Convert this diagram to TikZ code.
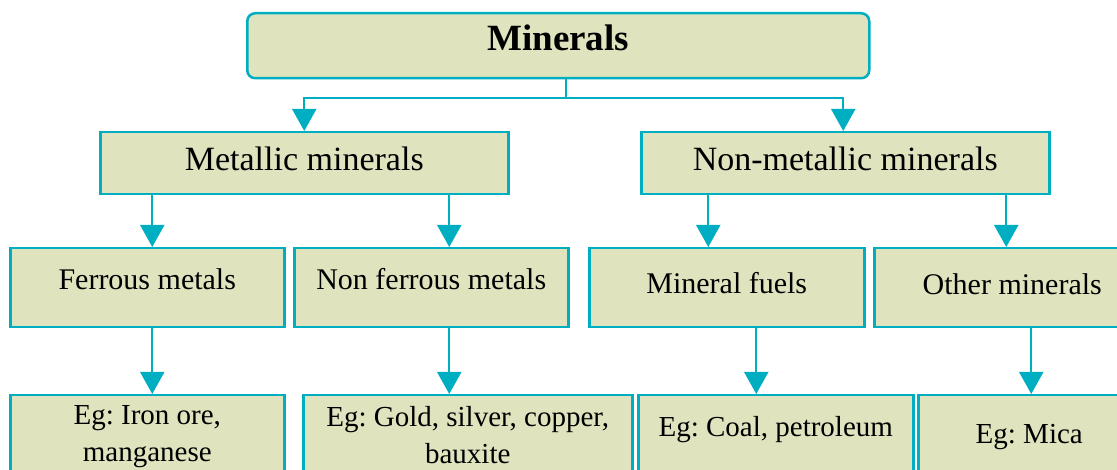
\documentclass[tikz,border=0pt]{standalone}
\usepackage{fontspec}
\setmainfont{Liberation Serif}
\frenchspacing
\usetikzlibrary{arrows.meta,positioning,calc}
\definecolor{mincyan}{RGB}{0,174,194}
\definecolor{minfill}{RGB}{223,228,190}

\begin{document}
\begin{tikzpicture}[x=1pt,y=-1pt,
  box/.style={draw=mincyan,fill=minfill,line width=2.5pt,inner xsep=0pt,inner ysep=0pt,anchor=north west,align=center},
  arr/.style={draw=mincyan,line width=2pt,-{Triangle[width=24pt,length=22pt]}}]
\useasboundingbox (0,0) rectangle (1117,470);
%Kopf
\node[box,rounded corners=8pt,minimum width=622pt,text height=37pt,text depth=28pt,font=\bfseries\fontsize{37}{40}\selectfont] (top) at (246,12) {Minerals};
%erste Ebene
\node[box,minimum width=408pt,text height=38pt,text depth=24pt,font=\fontsize{34}{38}\selectfont] (metal) at (99,131) {Metallic minerals};
\node[box,minimum width=408pt,text height=38pt,text depth=24pt,font=\fontsize{34}{38}\selectfont] (nonmetal) at (640,131) {Non-metallic minerals};
%zweite Ebene
\node[box,minimum width=274pt,text height=41pt,text depth=38pt,font=\fontsize{30}{34}\selectfont] (ferrous) at (9,247) {Ferrous metals};
\node[box,minimum width=274pt,text height=41pt,text depth=38pt,font=\fontsize{30}{34}\selectfont] (nonferrous) at (293,247) {Non ferrous metals};
\node[box,minimum width=275pt,text height=45pt,text depth=34pt,font=\fontsize{30}{34}\selectfont] (fuels) at (588,247) {Mineral fuels};
\node[box,minimum width=276pt,text height=46pt,text depth=33pt,font=\fontsize{30}{34}\selectfont] (other) at (873,247) {Other minerals};
%Beispiele (Grundlinie = letzte Zeile)
\node[box,minimum width=274pt,text height=66pt,text depth=34pt,font=\fontsize{29}{37}\selectfont] (egiron) at (9,394) {Eg: Iron ore,\\manganese};
\node[box,minimum width=329pt,text height=68pt,text depth=32pt,font=\fontsize{29}{37}\selectfont] (eggold) at (302,394) {Eg: Gold, silver, copper,\\bauxite};
\node[box,minimum width=275pt,text height=41pt,text depth=59pt,font=\fontsize{29}{37}\selectfont] (egcoal) at (637,394) {Eg: Coal, petroleum};
\node[box,minimum width=222pt,text height=48pt,text depth=52pt,font=\fontsize{29}{37}\selectfont] (egmica) at (917,394) {Eg: Mica};
%Pfeile
\coordinate (split) at ($([xshift=8pt]top.south)+(0,19)$);
\draw[mincyan,line width=2pt] ([xshift=8pt]top.south) -- (split);
\draw[arr] (split) -| (metal.north);
\draw[arr] (split) -| ([xshift=-2pt]nonmetal.north);
\draw[arr] ([xshift=5pt]ferrous.north |- metal.south) -- ([xshift=5pt]ferrous.north);
\draw[arr] ([xshift=18pt]nonferrous.north |- metal.south) -- ([xshift=18pt]nonferrous.north);
\draw[arr] ([xshift=-18.5pt]fuels.north |- nonmetal.south) -- ([xshift=-18.5pt]fuels.north);
\draw[arr] ([xshift=-6pt]other.north |- nonmetal.south) -- ([xshift=-6pt]other.north);
\draw[arr] ([xshift=5pt]ferrous.south) -- ([xshift=5pt]egiron.north);
\draw[arr] ([xshift=18pt]nonferrous.south) -- ([xshift=-18.5pt]eggold.north);
\draw[arr] ([xshift=29.5pt]fuels.south) -- ([xshift=-19.5pt]egcoal.north);
\draw[arr] ([xshift=19pt]other.south) -- ([xshift=2pt]egmica.north);
\end{tikzpicture}
\end{document}
